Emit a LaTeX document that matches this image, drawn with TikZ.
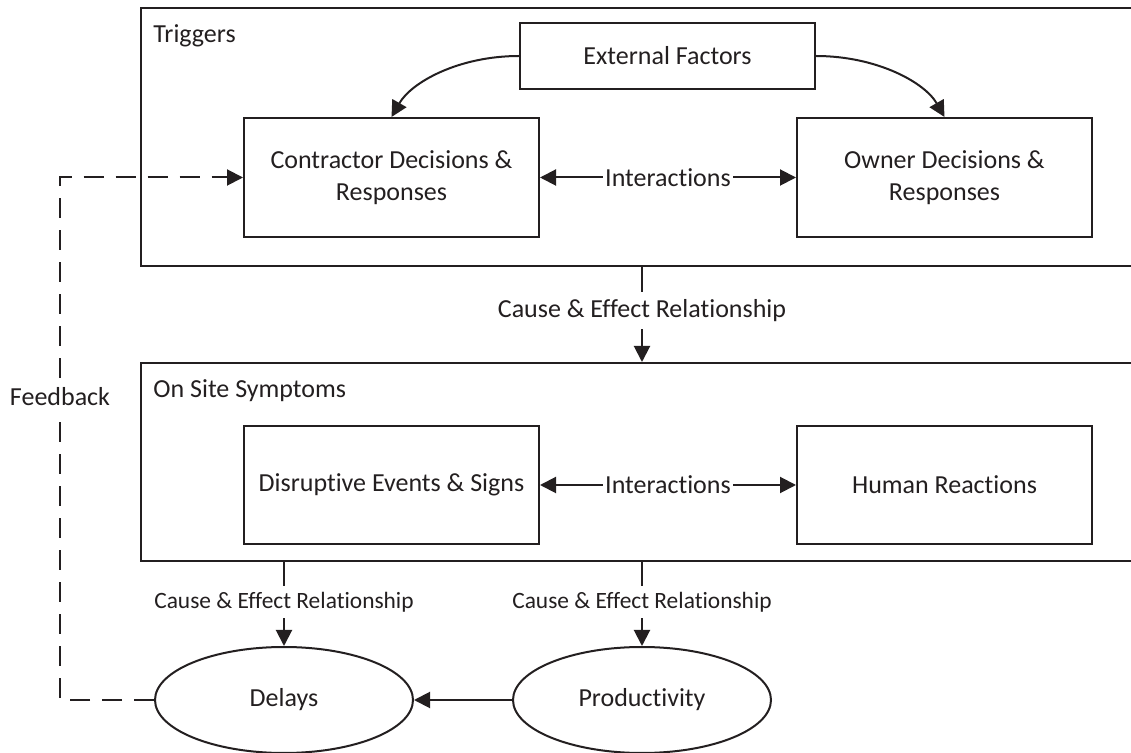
\documentclass[tikz,border=0pt]{standalone}
\usepackage{fontspec}
\setmainfont{Carlito}[Ligatures=NoCommon]
\usetikzlibrary{arrows.meta,shapes.geometric}
\definecolor{ink}{RGB}{35,31,32}
\begin{document}
\begin{tikzpicture}[x=0.5pt,y=-0.5pt,
  every node/.style={text=ink,font=\fontsize{13}{15.8}\selectfont},
  tip/.tip={Triangle[length=8pt,width=8pt]},
  box/.style={draw=ink,line width=1pt,minimum width=147.5pt,minimum height=59.5pt,align=center,inner sep=2pt},
  frame/.style={draw=ink,line width=1pt,minimum width=501pt,inner sep=0pt},
  oval/.style={ellipse,draw=ink,line width=1pt,minimum width=129pt,minimum height=53pt,inner sep=0pt},
  link/.style={draw=ink,line width=1pt,-tip},
  bilink/.style={draw=ink,line width=1pt,tip-tip},
  feedback/.style={draw=ink,line width=1pt,dash pattern=on 10pt off 6pt,-tip},
  gap/.style={fill=white,inner sep=1pt},
  smallgap/.style={fill=white,inner xsep=1pt,inner ysep=3pt,font=\fontsize{11.7}{14}\selectfont},
  biggap/.style={fill=white,inner xsep=1pt,inner ysep=3.5pt},
  title/.style={anchor=base west,inner sep=0pt}
]
\useasboundingbox (0,0) rectangle (1131,753);
\clip (0,0) rectangle (1131,753);

% the two stage frames
\node[frame,minimum height=129pt] (trig) at (642,137) {};
\node[frame,minimum height=99pt] (site) at (642,462) {};
\node[title] (triglbl) at (153,43) {Triggers};
\node[title] (sitelbl) at (153,398) {On Site Symptoms};

% triggers
\node[box,minimum height=33pt] (ext) at (667.5,56) {External Factors};
\node[box] (con) at (391.5,177.5) {Contractor Decisions \&\\Responses};
\node[box] (own) at (944.5,177.5) {Owner Decisions \&\\Responses};

% on site symptoms
\node[box,minimum height=59pt] (dis) at (391.5,485) {Disruptive Events \& Signs};
\node[box,minimum height=59pt] (hum) at (944.5,485) {Human Reactions};

% outcomes
\node[oval] (del) at (284,700) {Delays};
\node[oval] (pro) at (642,700) {Productivity};

% external factors feed both parties
\draw[link] (ext.west) .. controls +(-60,0) and +(20,-35) .. (con.north);
\draw[link] (ext.east) .. controls +(60,0) and +(-20,-35) .. (own.north);

% interactions
\draw[bilink] (con.east) -- node[gap] (int1) {Interactions} (own.west);
\draw[bilink] (dis.east) -- node[gap] (int2) {Interactions} (hum.west);

% cause and effect links
\draw[link] (trig.south) -- (site.north);
\node[biggap] (ce1) at (642,310.5) {Cause \& Effect Relationship};
\draw[link] (site.south -| del.north) -- (del.north);
\node[smallgap] (ce2) at (284,602) {Cause \& Effect Relationship};
\draw[link] (site.south -| pro.north) -- (pro.north);
\node[smallgap] (ce3) at (642,602) {Cause \& Effect Relationship};

% productivity drives delays
\draw[link] (pro.west) -- (del.east);

% feedback loop back to the contractor
\coordinate (fb) at (60,0);
\draw[feedback] (del.west) -- (del.west -| fb) -- (con.west -| fb) -- (con.west);
\node[fill=white,inner xsep=1pt,inner ysep=3pt] (fblbl) at (60,397) {Feedback};
\end{tikzpicture}
\end{document}
